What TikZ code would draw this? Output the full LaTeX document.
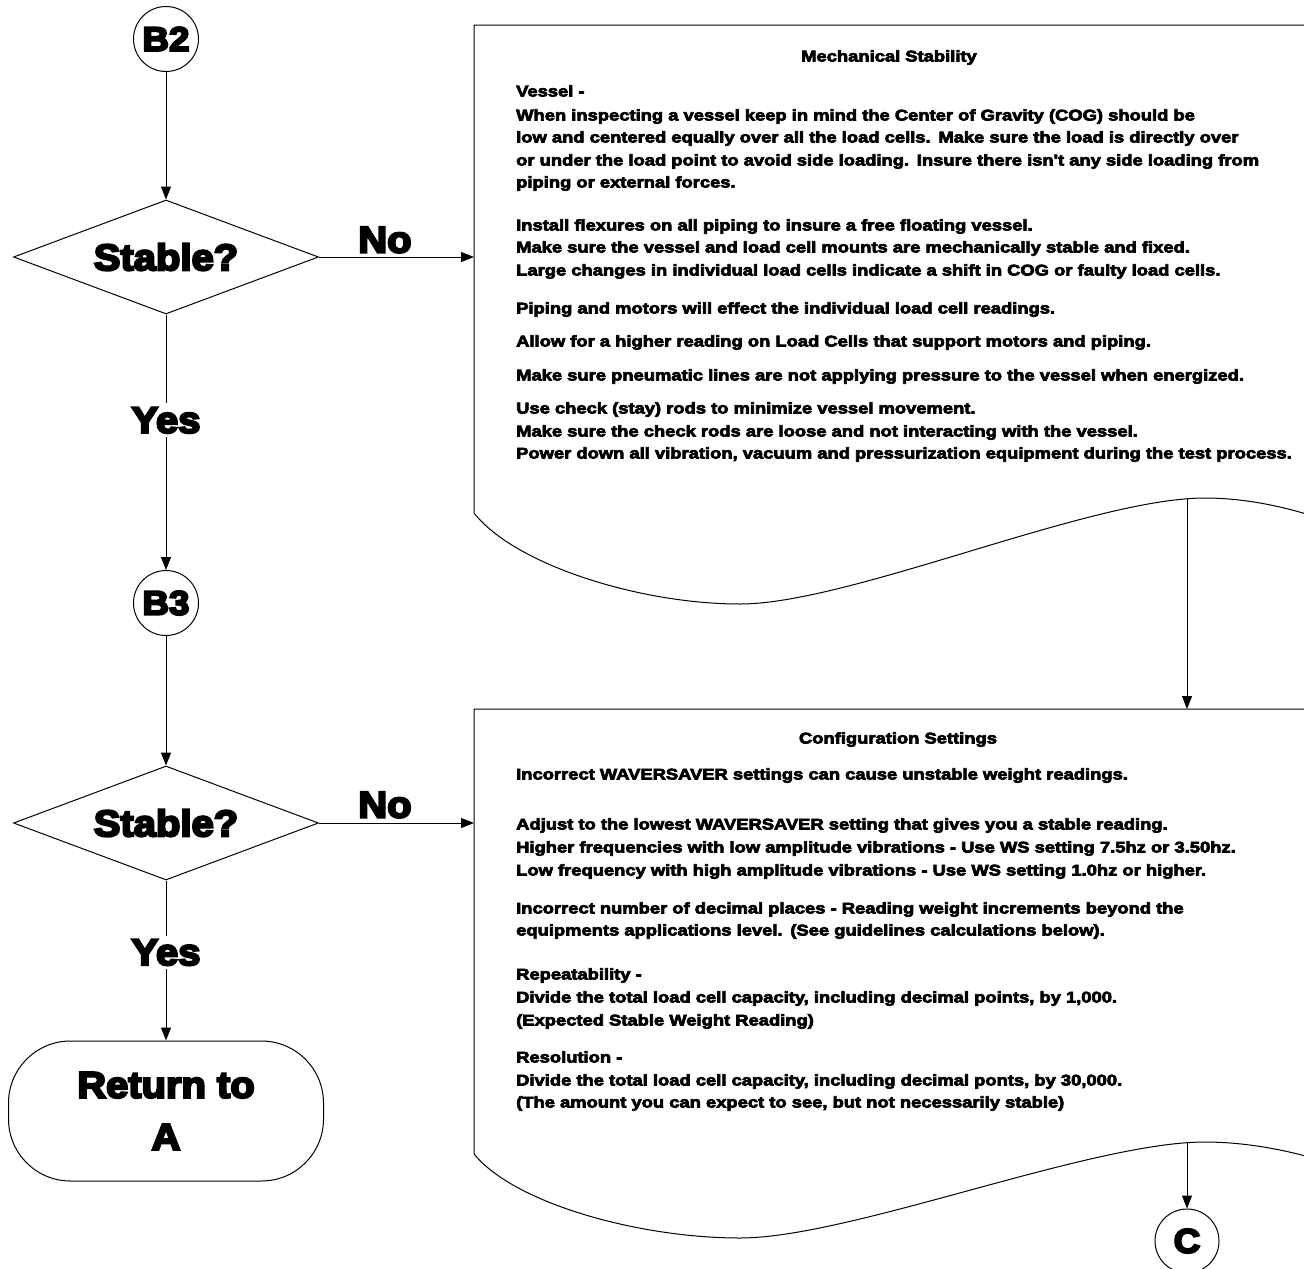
\documentclass[tikz,border=0pt]{standalone}
\usepackage{fontspec}
\usetikzlibrary{arrows.meta,shapes.geometric}
\newfontfamily\bodyfont[FakeStretch=1.185,FakeBold=4.5]{Liberation Sans}
\newfontfamily\bigfont[FakeStretch=1.08,FakeBold=6]{Liberation Sans}
\begin{document}
\begin{tikzpicture}[x=1pt,y=-1pt,
  lbl/.style={font=\bigfont\bfseries\fontsize{37}{52}\selectfont, inner sep=0pt},
  txt/.style={font=\bodyfont\bfseries\fontsize{15.5}{18}\selectfont, anchor=base west, inner sep=0pt},
  ttl/.style={font=\bodyfont\bfseries\fontsize{15.5}{18}\selectfont, anchor=base, inner sep=0pt},
  conn/.style={draw, line width=1pt, -{Triangle[length=13pt,width=10pt]}},
  outline/.style={draw, line width=1pt},
  circ/.style={circle, draw, line width=1pt, minimum size=65pt, inner sep=0pt,
    font=\bigfont\bfseries\fontsize{34}{40}\selectfont},
  decision/.style={diamond, draw, line width=1pt, minimum width=305pt, minimum height=114pt,
    aspect=2.675, inner sep=0pt, font=\bigfont\bfseries\fontsize{37}{44}\selectfont},
  terminal/.style={rectangle, draw, line width=1pt, rounded corners=62pt, minimum width=315pt,
    minimum height=140pt, align=center, font=\bigfont\bfseries\fontsize{37}{52}\selectfont},
  yeslbl/.style={lbl, fill=white, inner sep=4pt}
]
\useasboundingbox (0,0) rectangle (1304,1269);
\fill[white] (0,0) rectangle (1304,1269);
\clip (0,0) rectangle (1304,1269);

% ---------- left column ----------
\node[circ] (b2) at (166,39) {B2};
\node[decision] (s1) at (166,257) {Stable?};
\node[circ] (b3) at (166,603) {B3};
\node[decision] (s2) at (166,823) {Stable?};
\node[terminal] (ret) at (166,1111) {Return to\\A};

\coordinate (d1in) at (474,257);
\coordinate (d2in) at (474,823);
\coordinate (d1out) at (1187,499);
\coordinate (d2top) at (1187,709);
\coordinate (d2out) at (1187,1143);
\node[circ, minimum size=64pt] (c) at (1187,1241) {C};

\draw[conn] (b2) -- (s1);
\draw[conn] (s1) -- (b3) node[yeslbl, pos=0.414] (yes1) {Yes};
\draw[conn] (s1.east) -- (d1in);
\node[lbl] (no1) at (385,240) {No};
\draw[conn] (b3) -- (s2);
\draw[conn] (s2.east) -- (d2in);
\node[lbl] (no2) at (385,805) {No};
\draw[conn] (s2) -- (ret) node[yeslbl, pos=0.45] (yes2) {Yes};

% ---------- document 1 ----------
\draw[outline] (1360,25) -- (474,25) -- (474,513)
  .. controls (515,565) and (640,604) .. (740,604)
  .. controls (850,604) and (1090,498) .. (1205,498)
  .. controls (1260,498) and (1320,515) .. (1360,535);
\draw[conn] (d1out) -- (d2top);

\node[ttl] (t1) at (889,61.5) {Mechanical Stability};
\node[txt] (a1) at (516,96.5) {Vessel -};
\node[txt] (a2) at (516,120.5) {When inspecting a vessel keep in mind the Center of Gravity (COG) should be};
\node[txt] (a3) at (516,142.5) {low and centered equally over all the load cells.\hspace{0.5em}Make sure the load is directly over};
\node[txt] (a4) at (516,165.5) {or under the load point to avoid side loading.\hspace{0.5em}Insure there isn't any side loading from};
\node[txt] (a5) at (516,187.5) {piping or external forces.};
\node[txt] (a6) at (516,230.5) {Install flexures on all piping to insure a free floating vessel.};
\node[txt] (a7) at (516,252.5) {Make sure the vessel and load cell mounts are mechanically stable and fixed.};
\node[txt] (a8) at (516,275.5) {Large changes in individual load cells indicate a shift in COG or faulty load cells.};
\node[txt] (a9) at (516,313.5) {Piping and motors will effect the individual load cell readings.};
\node[txt] (a10) at (516,346.5) {Allow for a higher reading on Load Cells that support motors and piping.};
\node[txt] (a11) at (516,380.5) {Make sure pneumatic lines are not applying pressure to the vessel when energized.};
\node[txt] (a12) at (516,413.5) {Use check (stay) rods to minimize vessel movement.};
\node[txt] (a13) at (516,436.5) {Make sure the check rods are loose and not interacting with the vessel.};
\node[txt] (a14) at (516,458.5) {Power down all vibration, vacuum and pressurization equipment during the test process.};

% ---------- document 2 ----------
\draw[outline] (1360,709) -- (474,709) -- (474,1154)
  .. controls (515,1204) and (640,1238) .. (740,1238)
  .. controls (850,1238) and (1090,1142) .. (1205,1142)
  .. controls (1260,1142) and (1320,1157) .. (1360,1175);
\draw[conn] (d2out) -- (c);

\node[ttl] (t2) at (898,743.5) {Configuration Settings};
\node[txt] (b1l) at (516,779.5) {Incorrect WAVERSAVER settings can cause unstable weight readings.};
\node[txt] (b2l) at (516,829.5) {Adjust to the lowest WAVERSAVER setting that gives you a stable reading.};
\node[txt] (b3l) at (516,852.5) {Higher frequencies with low amplitude vibrations - Use WS setting 7.5hz or 3.50hz.};
\node[txt] (b4l) at (516,875.5) {Low frequency with high amplitude vibrations - Use WS setting 1.0hz or higher.};
\node[txt] (b5l) at (516,913.5) {Incorrect number of decimal places - Reading weight increments beyond the};
\node[txt] (b6l) at (516,935.5) {equipments applications level.\hspace{0.5em}(See guidelines calculations below).};
\node[txt] (b7l) at (516,979.5) {Repeatability -};
\node[txt] (b8l) at (516,1002.5) {Divide the total load cell capacity, including decimal points, by 1,000.};
\node[txt] (b9l) at (516,1025.5) {(Expected Stable Weight Reading)};
\node[txt] (b10l) at (516,1062.5) {Resolution -};
\node[txt] (b11l) at (516,1085.5) {Divide the total load cell capacity, including decimal ponts, by 30,000.};
\node[txt] (b12l) at (516,1107.5) {(The amount you can expect to see, but not necessarily stable)};
\end{tikzpicture}
\end{document}
